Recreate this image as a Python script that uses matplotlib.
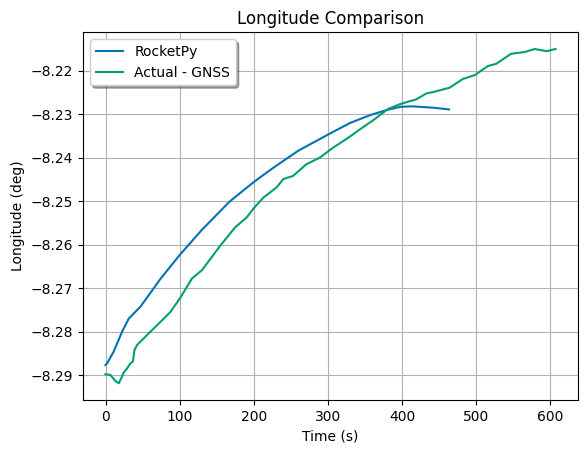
import matplotlib
matplotlib.use("Agg")
import matplotlib.pyplot as plt

# RocketPy simulated longitude
sim_time = [0, 2.3, 11, 22.5, 31.4, 47, 60.6, 74, 100, 130, 168, 200, 224, 260,
            300, 330, 357, 380, 398, 410.5, 415, 442, 463.5]
sim_lon = [-8.2877, -8.2873, -8.2846, -8.2800, -8.2770, -8.2743, -8.2711, -8.2679,
           -8.2624, -8.2566, -8.2500, -8.2456, -8.2426, -8.2384, -8.2347, -8.2320,
           -8.2302, -8.2290, -8.2283, -8.2282, -8.2282, -8.2285, -8.2289]

# GNSS measured longitude
gnss_time = [0, 6.7, 13.5, 18, 21, 24.7, 29, 33.6, 37, 39, 42.6, 56, 74, 87.5, 101,
             116.6, 130, 155, 175, 190.7, 200, 213.5, 222, 231, 240, 253, 271, 289,
             307, 327.5, 343, 361, 381, 397, 410.5, 419, 433, 442, 464, 482, 498,
             516, 527, 547, 565, 579, 595, 607]
gnss_lon = [-8.2898, -8.2900, -8.2914, -8.2919, -8.2908, -8.2894, -8.2885, -8.2873,
            -8.2869, -8.2843, -8.2831, -8.2808, -8.2778, -8.2755, -8.2722, -8.2678,
            -8.2659, -8.2602, -8.2560, -8.2537, -8.2516, -8.2491, -8.2480, -8.2468,
            -8.2449, -8.2442, -8.2415, -8.2400, -8.2377, -8.2354, -8.2335, -8.2314,
            -8.2288, -8.2277, -8.2270, -8.2266, -8.2252, -8.2249, -8.2239, -8.2219,
            -8.2210, -8.2189, -8.2184, -8.2161, -8.2157, -8.2150, -8.2155, -8.2150]

fig, ax = plt.subplots(figsize=(5.87, 4.55), dpi=100)
fig.subplots_adjust(left=0.1414, right=0.9847, top=0.929, bottom=0.1209)

ax.plot(sim_time, sim_lon, color="#0173B2", label="RocketPy")
ax.plot(gnss_time, gnss_lon, color="#029E73", label="Actual - GNSS")

ax.set_title("Longitude Comparison")
ax.set_xlabel("Time (s)")
ax.set_ylabel("Longitude (deg)")
ax.legend(loc="upper left", shadow=True)
ax.grid(True)

plt.savefig("out.png", dpi=100)
plt.close()
